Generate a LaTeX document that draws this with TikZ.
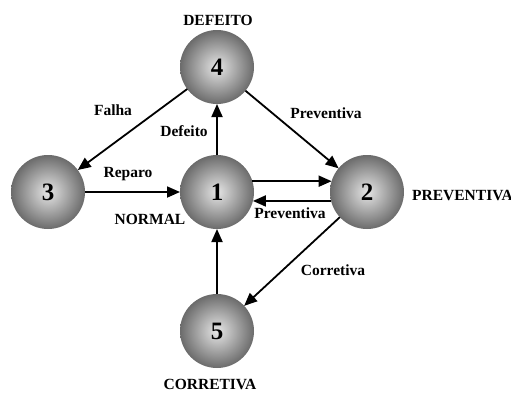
\documentclass[tikz,border=0pt]{standalone}
\usepackage{fontspec}
\setmainfont{Liberation Serif}
\usetikzlibrary{arrows.meta}
\tikzset{
	ball/.style={circle, minimum size=74pt, inner sep=0pt, outer sep=0pt, inner color=black!10, outer color=black!58, font=\fontsize{25}{28}\selectfont\bfseries},
	lbl/.style={inner sep=0pt, font=\fontsize{15.5}{18}\selectfont\bfseries},
	arr/.style={line width=1.8pt, -{Triangle[length=13pt,width=11pt]}}
}

\begin{document}
\begin{tikzpicture}[x=1pt, y=-1pt]
			%%%%% START %%%%%
			\useasboundingbox (0, 0) rectangle (511, 392);
			
			\node[ball] (n4) at (217, 67) {4};
			\node[ball] (n3) at (48, 192) {3};
			\node[ball] (n1) at (217, 192) {1};
			\node[ball] (n2) at (367, 192) {2};
			\node[ball] (n5) at (217, 331) {5};
			
			\node[lbl] (sDefeito) at (218, 20) {DEFEITO};
			\node[lbl] (sNormal) at (150, 219) {NORMAL};
			\node[lbl, anchor=west] (sPreventiva) at (412, 195) {PREVENTIVA};
			\node[lbl] (sCorretiva) at (210, 384) {CORRETIVA};
			
			\draw[arr] (n4) -- (n3);
			\draw[arr] (n4) -- (n2);
			\draw[arr] (n1) -- (n4);
			\draw[arr] (n3) -- (n1);
			\draw[arr] (n1.17) -- (n2.163);
			\draw[arr] (n2.194) -- (n1.346);
			\draw[arr] (n2) -- (n5);
			\draw[arr] (n5) -- (n1);
			
			\node[lbl] (eFalha) at (113, 110) {Falha};
			\node[lbl] (eDefeito) at (184, 131) {Defeito};
			\node[lbl] (eReparo) at (128, 174) {Reparo};
			\node[lbl] (ePrevA) at (326, 113) {Preventiva};
			\node[lbl] (ePrevB) at (290, 213) {Preventiva};
			\node[lbl] (eCorretiva) at (333, 270) {Corretiva};
			
			%%%%% END %%%%%
\end{tikzpicture}
\end{document}
